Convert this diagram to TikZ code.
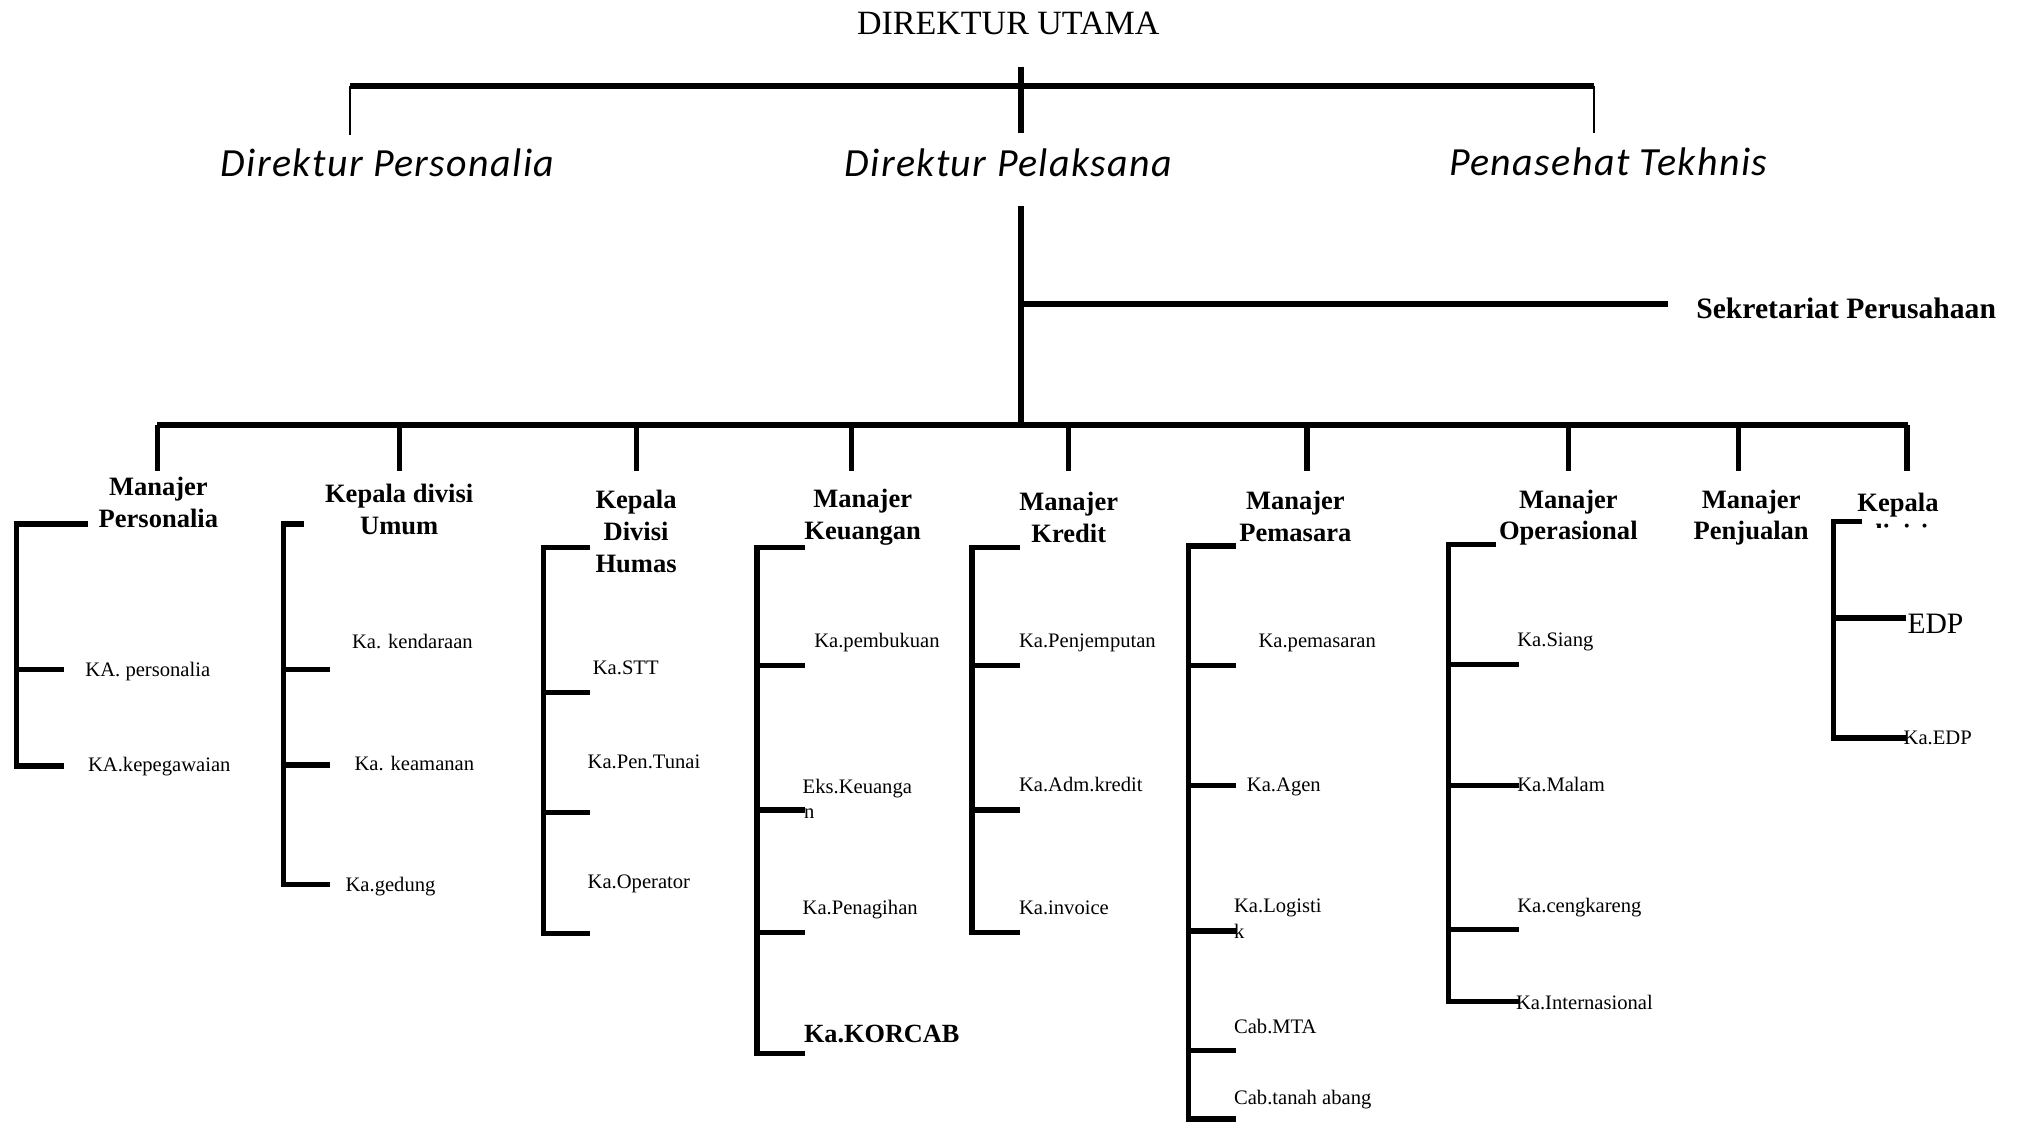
\documentclass[tikz,border=0pt]{standalone}
\usepackage{fontspec}
\setmainfont{Liberation Serif}
\newfontfamily\headfont[LetterSpace=3.5]{Carlito}
\begin{document}
\begin{tikzpicture}[x=0.5pt,y=-0.5pt,
  bar/.style={line width=2.4pt},
  brk/.style={line width=2.1pt, line join=miter},
  drop/.style={line width=2pt},
  thinline/.style={line width=0.8pt},
  top/.style={font=\fontsize{13.2}{15}\selectfont, anchor=base, inner sep=0},
  head/.style={font=\headfont\itshape\fontsize{15.5}{18}\selectfont, anchor=base, inner sep=0},
  mgr/.style={font=\bfseries\fontsize{10.3}{12.4}\selectfont, align=center, inner sep=0},
  item/.style={font=\fontsize{8}{10}\selectfont, anchor=base west, inner sep=0},
]
\useasboundingbox (0,0) rectangle (1568,871);

% ---- top level ----
\node[top] (du) at (783,27) {DIREKTUR UTAMA};
\node[head] (dpers) at (301,137) {Direktur Personalia};
\node[head] (dpel) at (783,137) {Direktur Pelaksana};
\node[head] (pt) at (1249,136) {Penasehat Tekhnis};

\coordinate (barL) at (272,67);
\coordinate (barR) at (1238,67);
\coordinate (ctrUp) at (793,52);
\coordinate (ctrDn) at (793,103);
\draw[bar] (barL) -- (barR);
\draw[bar] (ctrUp) -- (ctrDn);
\draw[thinline] (barL) -- (272,105);
\draw[thinline] (barR) -- (1238,103);

% ---- trunk below Direktur Pelaksana ----
\coordinate (trTop) at (793,160);
\coordinate (trSek) at (793,236);
\coordinate (trBot) at (793,330);
\draw[bar] (trTop) -- (trBot);
\node[font=\bfseries\fontsize{11.5}{14}\selectfont, anchor=base west, inner sep=0] (sek) at (1317,247) {Sekretariat Perusahaan};
\coordinate (sekEnd) at (1295,236);
\draw[bar] (trSek) -- (sekEnd);

\coordinate (mainL) at (122,330);
\coordinate (mainR) at (1482,330);
\draw[bar] (mainL) -- (mainR);
\foreach \x in {122,310,494,661,830,1015,1218,1350,1481}
  \draw[drop] (\x,330) -- (\x,366);

% ---- department heads ----
\node[mgr] (m1) at (123,390) {Manajer\\Personalia};
\node[mgr] (m2) at (310,396) {Kepala divisi\\Umum};
\node[mgr] (m3) at (494,413) {Kepala\\Divisi\\Humas};
\node[mgr] (m4) at (670,402) {Manajer\\Keuangan};
\node[mgr] (m5) at (830,402) {Manajer\\Kredit};
\node[mgr] (m6) at (1006,401) {Manajer\\Pemasara};
\node[mgr] (m7) at (1218,402) {Manajer\\Operasional};
\node[mgr] (m8) at (1360,402) {Manajer\\Penjualan};
\node[mgr, anchor=base] (m9) at (1474,397) {Kepala};
\begin{scope}
  \clip (1430,398) rectangle (1520,410);
  \node[mgr, anchor=base] (m9b) at (1474,421) {divisi};
\end{scope}

% ---- Manajer Personalia ----
\draw[brk] (68,407) -- (13,407) -- (13,595) -- (50,595);
\draw[brk] (13,520) -- (50,520);
\node[item] (p1) at (66,525) {KA. personalia};
\node[item] (p2) at (68,599) {KA.kepegawaian};

% ---- Kepala divisi Umum ----
\draw[brk] (236,407) -- (220,407) -- (220,687) -- (256,687);
\foreach \y in {520,594} \draw[brk] (220,\y) -- (256,\y);
\node[item] (u1) at (273,504) {Ka. kendaraan};
\node[item] (u2) at (275,598) {Ka. keamanan};
\node[item] (u3) at (268,692) {Ka.gedung};

% ---- Kepala Divisi Humas ----
\draw[brk] (458,425) -- (422,425) -- (422,725) -- (458,725);
\foreach \y in {538,631} \draw[brk] (422,\y) -- (458,\y);
\node[item] (h1) at (460,524) {Ka.STT};
\node[item] (h2) at (456,597) {Ka.Pen.Tunai};
\node[item] (h3) at (456,690) {Ka.Operator};

% ---- Manajer Keuangan ----
\draw[brk] (625,425) -- (588,425) -- (588,818) -- (625,818);
\foreach \y in {517,629,724} \draw[brk] (588,\y) -- (625,\y);
\node[item] (k1) at (632,503) {Ka.pembukuan};
\node[item] (k2) at (623,616) {Eks.Keuanga};
\node[item] (k2b) at (624,636) {n};
\node[item] (k3) at (623,710) {Ka.Penagihan};
\node[item, font=\bfseries\fontsize{10.2}{12}\selectfont] (k4) at (624,810) {Ka.KORCAB};

% ---- Manajer Kredit ----
\draw[brk] (792,425) -- (755,425) -- (755,724) -- (792,724);
\foreach \y in {517,629} \draw[brk] (755,\y) -- (792,\y);
\node[item] (c1) at (791,503) {Ka.Penjemputan};
\node[item] (c2) at (791,615) {Ka.Adm.kredit};
\node[item] (c3) at (791,710) {Ka.invoice};

% ---- Manajer Pemasara ----
\draw[brk] (960,424) -- (923,424) -- (923,869) -- (960,869);
\foreach \y in {517,610,723,816} \draw[brk] (923,\y) -- (960,\y);
\node[item] (s1) at (977,503) {Ka.pemasaran};
\node[item] (s2) at (968,615) {Ka.Agen};
\node[item] (s3) at (958,709) {Ka.Logisti};
\node[item] (s3b) at (958,729) {k};
\node[item] (s4) at (958,803) {Cab.MTA};
\node[item] (s5) at (958,858) {Cab.tanah abang};

% ---- Manajer Operasional ----
\draw[brk] (1162,423) -- (1125,423) -- (1125,778) -- (1180,778);
\foreach \y in {516,610,722} \draw[brk] (1125,\y) -- (1180,\y);
\node[item] (o1) at (1178,502) {Ka.Siang};
\node[item] (o2) at (1178,615) {Ka.Malam};
\node[item] (o3) at (1178,709) {Ka.cengkareng};
\node[item] (o4) at (1177,784) {Ka.Internasional};

% ---- Kepala divisi EDP ----
\draw[brk] (1446,405) -- (1424,405) -- (1424,573) -- (1480,573);
\draw[brk] (1424,480) -- (1480,480);
\node[item, font=\fontsize{11.5}{14}\selectfont] (e1) at (1481,492) {EDP};
\node[item] (e2) at (1478,578) {Ka.EDP};
\end{tikzpicture}
\end{document}
